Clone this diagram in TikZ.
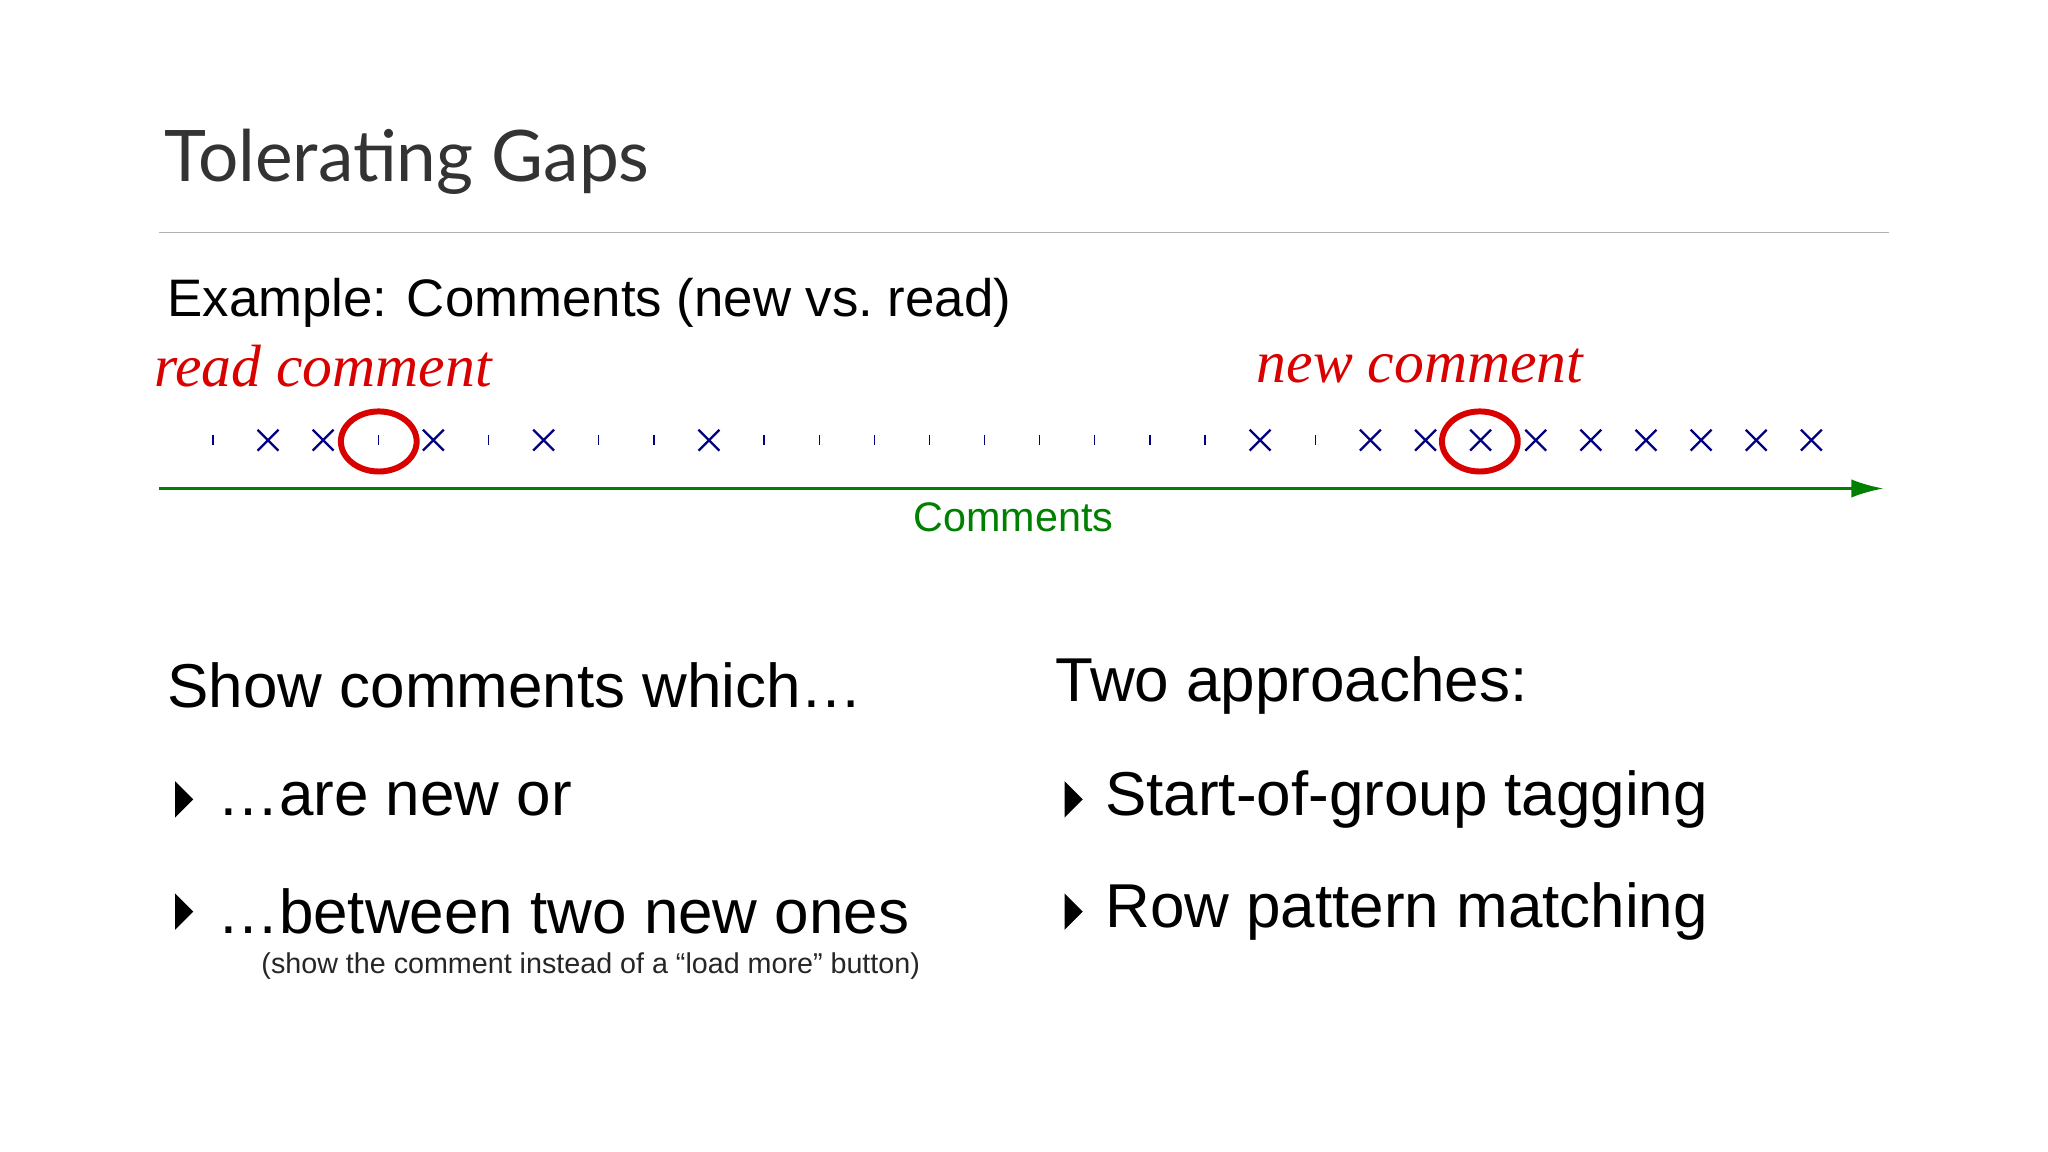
\documentclass[tikz,border=0pt]{standalone}
\usepackage{fontspec}
\usetikzlibrary{arrows.meta}
\setmainfont{Liberation Sans}
\newfontfamily\titlefont{Lato}
\newfontfamily\handfont{Liberation Serif}
\begin{document}
\begin{tikzpicture}[x=0.02cm,y=-0.02cm,
  tick/.style={draw=blue!50!black,line width=0.6pt},
  cross/.style={draw=blue!50!black,line width=1pt},
  hand/.style={text=red!85!black,font=\handfont\itshape\fontsize{26}{26}\selectfont,anchor=west},
  body/.style={anchor=west,font=\fontsize{27}{30}\selectfont}]
\useasboundingbox (0,0) rectangle (1568,882);
\node[anchor=west,font=\titlefont\fontsize{31}{34}\selectfont,text=black!80] (title) at (120,124) {Tolerating Gaps};
\draw[black!30,line width=0.8pt] (122,178) -- (1446,178);
\node[anchor=west,font=\fontsize{23}{26}\selectfont] (ex) at (122,232) {Example: Comments (new vs.\ read)};
\node[hand] (rc) at (112,280) {read comment};
\node[hand] (nc) at (956,280) {new comment};
\def\seq{0,1,1,0,1,0,1,0,0,1,0,0,0,0,0,0,0,0,0,1,0,1,1,1,1,1,1,1,1,1}
\foreach \t [count=\i from 0] in \seq {
  \pgfmathsetmacro\xx{163+\i*42.2}
  \ifnum\t=1
    \draw[cross] (\xx-8,329) -- (\xx+8,345) (\xx-8,345) -- (\xx+8,329);
  \else
    \draw[tick] (\xx,333) -- (\xx,341);
  \fi
}
\draw[red!85!black,line width=2.6pt] (290,338) ellipse (29 and 23);
\draw[red!85!black,line width=2.6pt] (1133,338) ellipse (29 and 23);
\coordinate (a0) at (122,374);
\coordinate (a1) at (1442,374);
\draw[green!50!black,line width=1.2pt,-{Latex[length=14pt,width=8pt]}] (a0) -- (a1);
\node[font=\fontsize{18}{20}\selectfont,text=green!50!black] (cl) at (776,396) {Comments};
\node[body] (l0) at (122,525) {Show comments which…};
\node[body] (l1) at (160,612) {…are new or};
\node[body] (l2) at (160,698) {…between two new ones};
\node[anchor=west,font=\fontsize{12.5}{14}\selectfont,text=black!85] (l3) at (194,740) {(show the comment instead of a “load more” button)};
\node[body] (r0) at (802,525) {Two approaches:};
\node[body] (r1) at (840,612) {Start-of-group tagging};
\node[body] (r2) at (840,698) {Row pattern matching};
\foreach \x/\y in {134/612,134/698,815/612,815/698}
  \fill (\x,\y-14) -- (\x+14,\y) -- (\x,\y+14) -- cycle;
\end{tikzpicture}
\end{document}
